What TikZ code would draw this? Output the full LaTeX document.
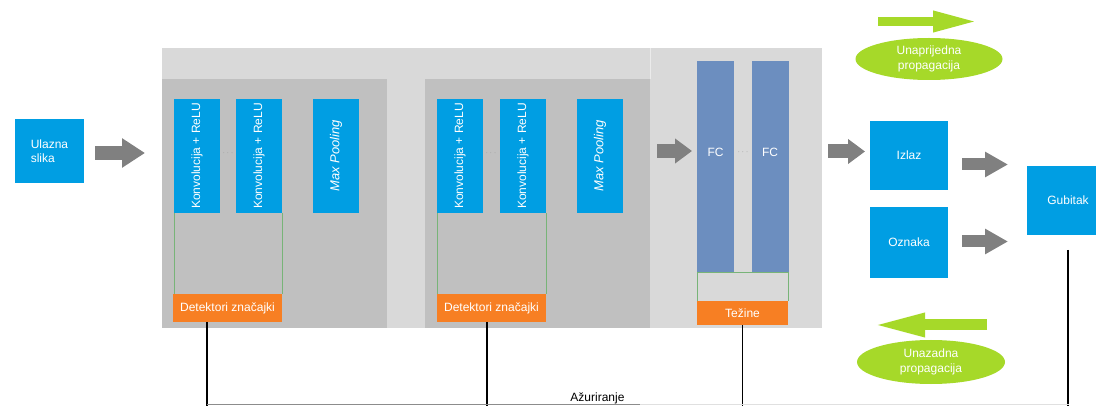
\documentclass[tikz,border=0pt]{standalone}
\usepackage{fontspec}
\setmainfont{Liberation Sans}
\usetikzlibrary{arrows.meta,shapes.geometric}
\definecolor{cblue}{RGB}{0,158,227}
\definecolor{cfc}{RGB}{108,142,191}
\definecolor{corange}{RGB}{247,127,35}
\definecolor{cgreen}{RGB}{166,217,41}
\definecolor{clight}{RGB}{217,217,217}
\definecolor{cdark}{RGB}{192,192,192}
\definecolor{cgray}{RGB}{128,128,128}
\definecolor{coutline}{RGB}{120,180,120}
\tikzset{
  box/.style={inner sep=0pt, outer sep=0pt, draw=none, text=white, font=\fontsize{12}{14.5}\selectfont},
  bluebox/.style={box, fill=cblue},
  convbox/.style={bluebox, minimum width=46pt, minimum height=114pt},
  fcbox/.style={box, fill=cfc, minimum width=37pt, minimum height=211pt},
  orangebox/.style={box, fill=corange},
  panel/.style={inner sep=0pt, outer sep=0pt, draw=none},
  garrow/.style={draw=cgray, line width=14pt, -{Triangle[length=23pt,width=28pt]}},
  garrowsm/.style={draw=cgray, line width=14pt, -{Triangle[length=17pt,width=24pt]}},
  garrowr/.style={draw=cgray, line width=12pt, -{Triangle[length=23pt,width=24pt]}},
  greenarrow/.style={draw=cgreen, line width=9pt, -{Triangle[length=46pt,width=19pt]}},
  greenarrowb/.style={draw=cgreen, line width=11pt, -{Triangle[length=55pt,width=21pt]}},
  bubble/.style={ellipse, fill=cgreen, inner sep=0pt, text=white, align=center, font=\fontsize{12}{15}\selectfont},
  dots/.style={text=cgray!80, font=\fontsize{9}{9}\selectfont, inner sep=0pt},
  outline/.style={draw=coutline, line width=0.7pt},
  updline/.style={draw=black, line width=1.1pt},
}
\begin{document}
\begin{tikzpicture}[x=1pt,y=-1pt]
\useasboundingbox (0,0) rectangle (1096,406);
\clip (0,0) rectangle (1096,406);
\fill[white] (0,0) rectangle (1096,406);

% panels
\node[panel, fill=clight, minimum width=660pt, minimum height=280pt] (big) at (492,188) {};
\node[panel, fill=cdark, minimum width=225pt, minimum height=249pt] (pa) at (274.5,203.5) {};
\node[panel, fill=cdark, minimum width=225pt, minimum height=249pt] (pb) at (537.5,203.5) {};
\draw[draw=white!92!black, line width=0.8pt] (pb.north east) -- (pb.north east |- big.north);

% input
\node[bluebox, minimum width=69pt, minimum height=64pt, align=left] (in) at (49.5,151) {Ulazna\\slika};

% block A
\node[convbox] (a1) at (197,156) {\rotatebox{90}{Konvolucija + ReLU}};
\node[convbox] (a2) at (259,156) {\rotatebox{90}{Konvolucija + ReLU}};
\node[convbox] (ap) at (336,156) {\rotatebox{90}{\fontsize{13}{15}\selectfont\itshape Max Pooling}};
\node[dots] (ad) at (228,153) {$\cdots$};
\node[orangebox, minimum width=109pt, minimum height=28pt] (ao) at (227.5,308) {Detektori značajki};
\draw[outline] (a1.south west) -- (a1.south west |- ao.north) (a2.south east) -- (a2.south east |- ao.north);

% block B
\node[convbox] (b1) at (460,156) {\rotatebox{90}{Konvolucija + ReLU}};
\node[convbox] (b2) at (523,156) {\rotatebox{90}{Konvolucija + ReLU}};
\node[convbox] (bp) at (600,156) {\rotatebox{90}{\fontsize{13}{15}\selectfont\itshape Max Pooling}};
\node[dots] (bd) at (491,153) {$\cdots$};
\node[orangebox, minimum width=109pt, minimum height=28pt] (bo) at (491.5,308) {Detektori značajki};
\draw[outline] (b1.south west) -- (b1.south west |- bo.north) (b2.south east) -- (b2.south east |- bo.north);

% FC block
\node[fcbox] (f1) at (715.5,166.5) {};
\node[fcbox] (f2) at (770,166.5) {};
\node[box] (f1t) at ([yshift=14pt]f1.center) {FC};
\node[box] (f2t) at ([yshift=14pt]f2.center) {FC};
\node[dots] (fd) at (743,152) {$\cdots$};
\node[orangebox, minimum width=91pt, minimum height=24pt] (fo) at (742.5,313) {Težine};
\draw[outline] (f1.south west) -- (f1.south west |- fo.north) (f2.south east) -- (f2.south east |- fo.north) (f1.south west) -- (f2.south east);

% outputs
\node[bluebox, minimum width=78pt, minimum height=69pt] (iz) at (909,155.5) {Izlaz};
\node[bluebox, minimum width=78pt, minimum height=71pt] (oz) at (909,242.5) {Oznaka};
\node[bluebox, minimum width=82pt, minimum height=69pt] (gb) at (1068,200.5) {Gubitak};

% propagation legend
\node[bubble, minimum width=147pt, minimum height=42pt] (fw) at (929,59) {Unaprijedna\\propagacija};
\node[bubble, minimum width=148pt, minimum height=44pt] (bw) at (931,362) {Unazadna\\propagacija};
\coordinate (fws) at (878,21.5);
\coordinate (fwe) at (979,21.5);
\coordinate (bws) at (987,325);
\coordinate (bwe) at (870,325);
\draw[greenarrow] (fws) -- (fwe);
\draw[greenarrowb] (bws) -- (bwe);

% gray arrows
\draw[garrow] ([xshift=11pt,yshift=-2pt]in.east) -- ([xshift=-17pt,yshift=-2pt]in.east -| big.west);
\draw[garrowsm] ([xshift=7pt]pb.east |- 0,151) -- ([xshift=-5pt]f1.west |- 0,151);
\draw[garrowsm] ([xshift=6pt]big.east |- 0,151.5) -- ([xshift=-5pt]iz.west |- 0,151.5);
\draw[garrowr] ([xshift=14pt]iz.east |- 0,164.5) -- ([xshift=-19pt]gb.west |- 0,164.5);
\draw[garrowr] ([xshift=14pt]oz.east |- 0,241.5) -- ([xshift=-19pt]gb.west |- 0,241.5);

% update lines
\coordinate (bl) at (207,404);
\coordinate (bm) at (640,404);
\coordinate (br) at (1069,404);
\draw[updline] (ao.south -| bl) -- (bl |- 0,406);
\draw[updline] (bo.south -| 487,0) -- (487,406);
\draw[updline] (fo.south) -- (fo.south |- 0,406);
\draw[updline] (1068,250) -- (1068,406);
\draw[draw=black!45, line width=1pt] (bl) -- (bm);
\draw[draw=black!12, line width=1pt] (bm) -- (br);
\node[font=\fontsize{12}{14}\selectfont, inner sep=0pt, anchor=base] (upd) at (597.5,401) {Ažuriranje};
\end{tikzpicture}
\end{document}
